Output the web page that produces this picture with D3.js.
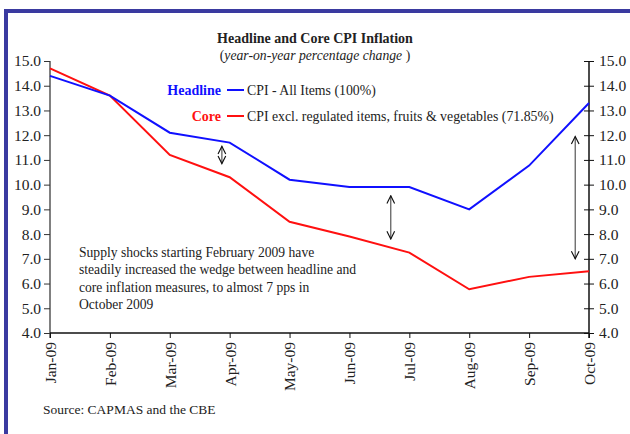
<!DOCTYPE html>
<html>
<head>
<meta charset="utf-8">
<script src="https://cdn.jsdelivr.net/npm/d3@7"></script>
<style>
    body { margin: 0; background: #fff; }
    text { font-family: "Liberation Serif", "Times New Roman", serif; fill: #222; }
</style>
</head>
<body>
<svg id="chart" width="630" height="434"></svg>
<script>
var months = ["Jan-09", "Feb-09", "Mar-09", "Apr-09", "May-09", "Jun-09", "Jul-09", "Aug-09", "Sep-09", "Oct-09"];
var headline = [14.4, 13.6, 12.1, 11.7, 10.2, 9.9, 9.9, 9.0, 10.77, 13.3];
var core = [14.7, 13.6, 11.2, 10.3, 8.5, 7.9, 7.25, 5.77, 6.27, 6.5];
var yTicks = [4, 5, 6, 7, 8, 9, 10, 11, 12, 13, 14, 15];
// wedge arrows: [month index offset, from value, to value]
var wedges = [[2.87, 11.55, 10.85], [5.69, 9.55, 7.8], [8.77, 11.95, 7.0]];
var noteLines = [
    "Supply shocks starting February 2009 have",
    "steadily increased the wedge between headline and",
    "core inflation measures, to almost 7 pps in",
    "October 2009"
];

var svg = d3.select("svg#chart");
var margin = { top: 61, left: 50, right: 41, bottom: 101 };
var plotWidth = 630 - margin.left - margin.right;
var plotHeight = 434 - margin.top - margin.bottom;

// frame
svg.append("path")
    .attr("d", "M6,440 L6,11 L640,11")
    .attr("fill", "none")
    .attr("stroke", "#3a3aa0")
    .attr("stroke-width", 4);

var x = d3.scaleLinear().domain([0, months.length - 1]).range([0, plotWidth]);
var y = d3.scaleLinear().domain([4, 15]).range([plotHeight, 0]);

var plot = svg.append("g")
    .attr("transform", "translate(" + margin.left + "," + margin.top + ")");

// left axis (grey line)
var left = plot.append("g").call(d3.axisLeft(y).tickValues(yTicks).tickSize(6).tickFormat(d3.format(".1f")));
left.select(".domain").attr("stroke", "#808080").attr("stroke-width", 2).attr("d", "M0,0V" + (plotHeight + 5));
left.selectAll(".tick line").attr("stroke", "#333");
left.selectAll(".tick text").attr("x", -9).style("font-size", "15.5px").style("font-family", "Liberation Serif").attr("fill", "#222");

// right axis
var right = plot.append("g").attr("transform", "translate(" + plotWidth + ",0)")
    .call(d3.axisRight(y).tickValues(yTicks).tickSize(5).tickFormat(d3.format(".1f")));
right.select(".domain").attr("stroke", "#111").attr("stroke-width", 1.5).attr("d", "M0,0V" + (plotHeight + 5));
right.selectAll(".tick line").attr("x1", -5).attr("stroke", "#111");
right.selectAll(".tick text").attr("x", 10).style("font-size", "15.5px").style("font-family", "Liberation Serif").attr("fill", "#222");

// bottom axis
var bottom = plot.append("g").attr("transform", "translate(0," + plotHeight + ")")
    .call(d3.axisBottom(x).tickValues(d3.range(months.length)).tickSize(5).tickFormat(function (i) { return months[i]; }));
bottom.select(".domain").attr("stroke", "#111").attr("stroke-width", 1.5).attr("d", "M0,0H" + plotWidth);
bottom.selectAll(".tick line").attr("stroke", "#111");
bottom.selectAll(".tick text")
    .attr("transform", "rotate(-90)")
    .attr("x", -9).attr("y", 0).attr("dy", "0.35em")
    .style("text-anchor", "end")
    .style("font-size", "15.5px").style("font-family", "Liberation Serif").attr("fill", "#222");

var line = d3.line().x(function (d, i) { return x(i); }).y(function (d) { return y(d); });

plot.append("path").datum(core).attr("d", line)
    .attr("fill", "none").attr("stroke", "#ff1010").attr("stroke-width", 2);
plot.append("path").datum(headline).attr("d", line)
    .attr("fill", "none").attr("stroke", "#1010ff").attr("stroke-width", 2);

// wedge arrows
svg.append("defs").append("marker")
    .attr("id", "head").attr("viewBox", "0 0 10 10")
    .attr("refX", 9).attr("refY", 5)
    .attr("markerWidth", 8).attr("markerHeight", 8)
    .attr("orient", "auto-start-reverse")
    .append("path").attr("d", "M1,1 L9,5 L1,9")
    .attr("fill", "none").attr("stroke", "#111").attr("stroke-width", 1.2);

plot.selectAll("line.wedge").data(wedges).enter().append("line")
    .attr("class", "wedge")
    .attr("x1", function (d) { return x(d[0]); }).attr("x2", function (d) { return x(d[0]); })
    .attr("y1", function (d) { return y(d[1]); }).attr("y2", function (d) { return y(d[2]); })
    .attr("stroke", "#555").attr("stroke-width", 1.2)
    .attr("marker-start", "url(#head)").attr("marker-end", "url(#head)");

// titles
svg.append("text").attr("x", 315).attr("y", 43).attr("text-anchor", "middle")
    .style("font-size", "14px").style("font-weight", "bold").text("Headline and Core CPI Inflation");
var sub = svg.append("text").attr("x", 315).attr("y", 60).attr("text-anchor", "middle").style("font-size", "13.7px");
sub.append("tspan").text("(");
sub.append("tspan").style("font-style", "italic").text("year-on-year percentage change");
sub.append("tspan").text(" )");

// legend
var legend = [
    { name: "Headline", label: "CPI - All Items (100%)", color: "#1010ff", y: 90 },
    { name: "Core", label: "CPI excl. regulated items, fruits & vegetables (71.85%)", color: "#ff1010", y: 116 }
];
var lg = svg.selectAll("g.legend").data(legend).enter().append("g").attr("class", "legend");
lg.append("text").attr("x", 221).attr("y", function (d) { return d.y + 5; })
    .attr("text-anchor", "end").style("font-size", "14px").style("font-weight", "bold")
    .style("fill", function (d) { return d.color; }).text(function (d) { return d.name; });
lg.append("line").attr("x1", 227).attr("x2", 244)
    .attr("y1", function (d) { return d.y; }).attr("y2", function (d) { return d.y; })
    .attr("stroke", function (d) { return d.color; }).attr("stroke-width", 2);
lg.append("text").attr("x", 247).attr("y", function (d) { return d.y + 5; })
    .style("font-size", "13.8px").text(function (d) { return d.label; });

// note
svg.append("text").attr("x", 79).attr("y", 257).style("font-size", "13.6px")
    .selectAll("tspan").data(noteLines).enter().append("tspan")
    .attr("x", 79).attr("dy", function (d, i) { return i ? 17.3 : 0; })
    .text(function (d) { return d; });

svg.append("text").attr("x", 43).attr("y", 414).style("font-size", "13.5px")
    .text("Source: CAPMAS and the CBE");
</script>
</body>
</html>
